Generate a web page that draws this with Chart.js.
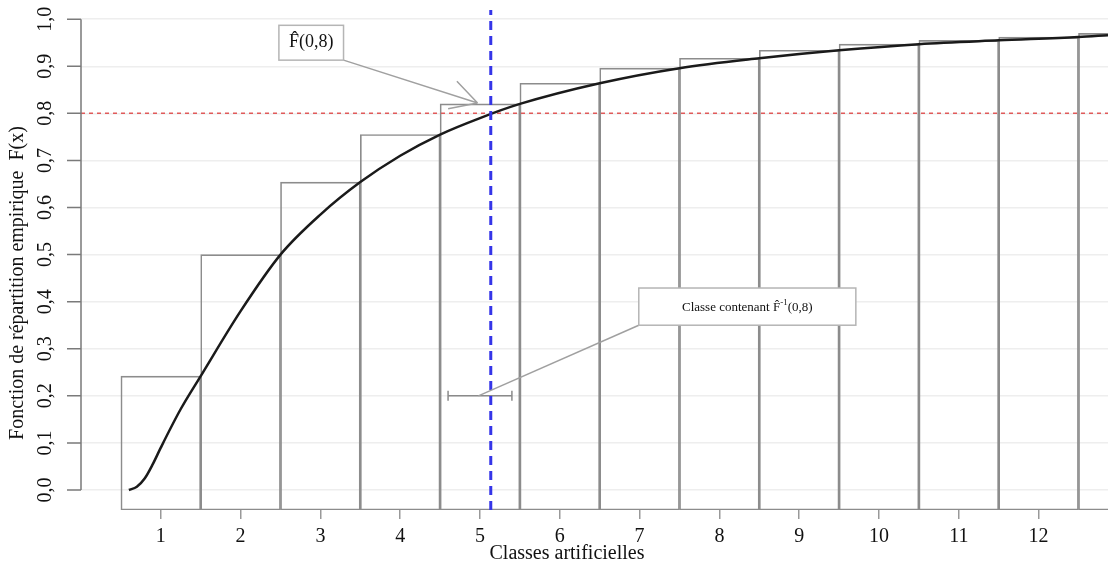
<!DOCTYPE html>
<html>
<head>
<meta charset="utf-8">
<script src="https://cdn.jsdelivr.net/npm/chart.js@4"></script>
<style>
  html, body { margin: 0; padding: 0; background: #fff; }
  canvas { display: block; }
</style>
</head>
<body>
<canvas id="chart" width="1108" height="568"></canvas>
<script>
const classes = [1, 2, 3, 4, 5, 6, 7, 8, 9, 10, 11, 12, 13];
const ecdfValues = [0.242, 0.5, 0.654, 0.755, 0.82, 0.864, 0.896, 0.917, 0.934, 0.947, 0.955, 0.962, 0.97];
const barBase = -0.0425;

// smoothed distribution curve
const curveX = [0.6, 0.7, 0.8, 0.9, 1, 1.25, 1.5, 2, 2.5, 3, 3.5, 4, 4.5, 5, 5.5, 6.5, 7.5, 8.5, 9.5, 10.5, 11.5, 12.5, 12.87];
const curveY = [0, 0.007, 0.025, 0.055, 0.09, 0.172, 0.242, 0.38, 0.5, 0.585, 0.654, 0.71, 0.755, 0.79, 0.82, 0.864, 0.896, 0.917, 0.934, 0.947, 0.955, 0.962, 0.966];

const xTicks = [1, 2, 3, 4, 5, 6, 7, 8, 9, 10, 11, 12];
const yTicks = [0, 0.1, 0.2, 0.3, 0.4, 0.5, 0.6, 0.7, 0.8, 0.9, 1];
const yTickLabels = ['0,0', '0,1', '0,2', '0,3', '0,4', '0,5', '0,6', '0,7', '0,8', '0,9', '1,0'];

const quantileLevel = 0.8;
const quantileX = 5.135;
const classInterval = [4.6, 5.4];
const xRange = [0, 12.87];
const yRange = [-0.0425, 1.0195];

const serif = '"Liberation Serif", "Times New Roman", serif';

function box(ctx, x0, y0, x1, y1) {
  ctx.fillStyle = '#fff';
  ctx.fillRect(x0, y0, x1 - x0, y1 - y0);
  ctx.strokeStyle = '#b5b5b5';
  ctx.lineWidth = 1.5;
  ctx.strokeRect(x0, y0, x1 - x0, y1 - y0);
}

// R-like extras: y axis, titles, annotation boxes
const rPlot = {
  id: 'rPlot',
  afterDatasetsDraw(chart) {
    const { ctx, scales: { x, y } } = chart;
    ctx.save();

    // y axis line and ticks
    const ax = x.getPixelForValue(xRange[0]);
    ctx.strokeStyle = '#7a7a7a';
    ctx.lineWidth = 1.5;
    ctx.beginPath();
    ctx.moveTo(ax, y.getPixelForValue(0));
    ctx.lineTo(ax, y.getPixelForValue(1));
    yTicks.forEach(v => {
      const py = y.getPixelForValue(v);
      ctx.moveTo(ax, py);
      ctx.lineTo(ax - 14, py);
    });
    ctx.stroke();

    ctx.fillStyle = '#111';
    ctx.font = '20px ' + serif;
    ctx.textAlign = 'center';
    ctx.textBaseline = 'middle';
    yTicks.forEach((v, i) => {
      ctx.save();
      ctx.translate(46, y.getPixelForValue(v));
      ctx.rotate(-Math.PI / 2);
      ctx.fillText(yTickLabels[i], 0, 0);
      ctx.restore();
    });

    // axis titles
    ctx.save();
    ctx.translate(18, 283);
    ctx.rotate(-Math.PI / 2);
    ctx.fillText('Fonction de répartition empirique  F(x)', 0, 0);
    ctx.restore();
    ctx.fillText('Classes artificielles', 567, 554);

    // annotation 1 : F^(0,8)
    const b1 = [x.getPixelForValue(2.48), y.getPixelForValue(0.987), x.getPixelForValue(3.29), y.getPixelForValue(0.913)];
    const tip = [x.getPixelForValue(4.97), y.getPixelForValue(0.822)];
    ctx.strokeStyle = '#a0a0a0';
    ctx.lineWidth = 1.5;
    ctx.beginPath();
    ctx.moveTo(b1[2], b1[3]);
    ctx.lineTo(tip[0], tip[1]);
    const ang = Math.atan2(tip[1] - b1[3], tip[0] - b1[2]);
    [0.5, -0.5].forEach(d => {
      ctx.moveTo(tip[0], tip[1]);
      ctx.lineTo(tip[0] - 30 * Math.cos(ang + d), tip[1] - 30 * Math.sin(ang + d));
    });
    ctx.stroke();
    box(ctx, b1[0], b1[1], b1[2], b1[3]);
    ctx.fillStyle = '#111';
    ctx.font = '18px ' + serif;
    ctx.fillText('F\u0302(0,8)', (b1[0] + b1[2]) / 2, (b1[1] + b1[3]) / 2);

    // annotation 2 : classe contenant F^-1(0,8)
    const b2 = [x.getPixelForValue(6.99), y.getPixelForValue(0.429), x.getPixelForValue(9.71), y.getPixelForValue(0.35)];
    ctx.strokeStyle = '#a0a0a0';
    ctx.beginPath();
    ctx.moveTo(b2[0], b2[3]);
    ctx.lineTo(x.getPixelForValue(4.98), y.getPixelForValue(0.2));
    ctx.stroke();
    box(ctx, b2[0], b2[1], b2[2], b2[3]);
    ctx.fillStyle = '#111';
    ctx.textAlign = 'left';
    const parts = [['Classe contenant F\u0302', 13, 0], ['-1', 9, -5], ['(0,8)', 13, 0]];
    let w = 0;
    parts.forEach(p => { ctx.font = p[1] + 'px ' + serif; w += ctx.measureText(p[0]).width; });
    let tx = (b2[0] + b2[2]) / 2 - w / 2;
    const ty = (b2[1] + b2[3]) / 2 + 1;
    parts.forEach(p => {
      ctx.font = p[1] + 'px ' + serif;
      ctx.fillText(p[0], tx, ty + p[2]);
      tx += ctx.measureText(p[0]).width;
    });

    ctx.restore();
  }
};

new Chart(document.getElementById('chart'), {
  data: {
    datasets: [
      {
        type: 'line',
        order: 0,
        data: [{ x: quantileX, y: yRange[0] }, { x: quantileX, y: yRange[1] }],
        borderColor: '#3535e8',
        borderWidth: 3,
        borderDash: [9, 6],
        pointRadius: 0
      },
      {
        type: 'line',
        order: 1,
        data: curveX.map((v, i) => ({ x: v, y: curveY[i] })),
        borderColor: '#1a1a1a',
        borderWidth: 2.5,
        cubicInterpolationMode: 'monotone',
        pointRadius: 0
      },
      {
        type: 'line',
        order: 2,
        data: [{ x: xRange[0], y: quantileLevel }, { x: xRange[1], y: quantileLevel }],
        borderColor: '#e05a5a',
        borderWidth: 1.5,
        borderDash: [4, 4],
        pointRadius: 0
      },
      {
        type: 'line',
        order: 3,
        data: classInterval.map(v => ({ x: v, y: 0.2 })),
        borderColor: '#8a8a8a',
        borderWidth: 1.5,
        pointStyle: 'line',
        rotation: 90,
        pointRadius: 5,
        pointBorderWidth: 1.5,
        pointBorderColor: '#8a8a8a'
      },
      {
        type: 'bar',
        order: 4,
        data: classes.map((c, i) => ({ x: c, y: [barBase, ecdfValues[i]] })),
        backgroundColor: 'rgba(0,0,0,0)',
        borderColor: '#8c8c8c',
        borderWidth: 1,
        borderSkipped: false,
        barPercentage: 1,
        categoryPercentage: 1
      }
    ]
  },
  options: {
    responsive: false,
    animation: false,
    layout: { autoPadding: false, padding: { top: 10, right: 0, left: 0, bottom: 0 } },
    plugins: { legend: { display: false }, tooltip: { enabled: false } },
    scales: {
      x: {
        type: 'linear',
        offset: false,
        min: xRange[0],
        max: xRange[1],
        afterBuildTicks: axis => { axis.ticks = xTicks.map(v => ({ value: v })); },
        afterFit: axis => { axis.height = 58; axis.paddingLeft = 0; axis.paddingRight = 0; },
        border: { display: false },
        grid: { offset: false, drawOnChartArea: false, drawTicks: true, tickLength: 9, color: '#999', lineWidth: 1.5 },
        ticks: { color: '#111', font: { family: serif, size: 20 }, padding: 6, maxRotation: 0, autoSkip: false }
      },
      y: {
        type: 'linear',
        min: yRange[0],
        max: yRange[1],
        afterBuildTicks: axis => { axis.ticks = yTicks.map(v => ({ value: v })); },
        afterFit: axis => { axis.width = 81; },
        border: { display: false },
        grid: { drawTicks: false, color: '#eeeeee', lineWidth: 1.5 },
        ticks: { display: false }
      }
    }
  },
  plugins: [rPlot]
});
</script>
</body>
</html>
